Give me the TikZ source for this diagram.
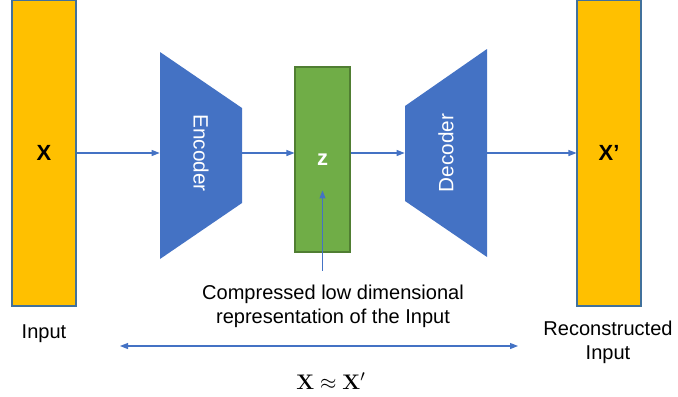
\documentclass[tikz,border=0pt]{standalone}
\usepackage{amsmath}
\usepackage[no-math]{fontspec}
\setmainfont{Liberation Sans}
\usepackage{xcolor}
\usetikzlibrary{positioning,arrows.meta,calc}
\definecolor{gold}{HTML}{FFC000}
\definecolor{ppblue}{HTML}{4472C4}
\definecolor{ppgreen}{HTML}{70AD47}
\definecolor{edgeblue}{HTML}{41719C}
\definecolor{edgegreen}{HTML}{507E32}

\begin{document}
\begin{tikzpicture}[x=0.02cm, y=-0.02cm,
  every node/.style={font=\fontsize{11.4}{13.7}\selectfont},
  bar/.style={draw=edgeblue, line width=0.6pt, fill=gold, minimum width=1.28cm, minimum height=6.12cm, inner sep=0pt, font=\fontsize{12.5}{15}\selectfont\bfseries},
  code/.style={draw=edgegreen, line width=0.6pt, fill=ppgreen, text=white, minimum width=1.1cm, minimum height=3.7cm, inner sep=0pt, font=\fontsize{12.5}{15}\selectfont\bfseries},
  net/.style={minimum width=1.64cm, minimum height=1.9cm, inner sep=0pt, text=white, font=\fontsize{11.8}{14}\selectfont},
  arr/.style={draw=ppblue, line width=0.6pt, -{Triangle[length=1.6mm, width=1.2mm]}},
  lbl/.style={align=center}]
\useasboundingbox (0,0) rectangle (678,396);
\fill[ppblue] (160,52) -- (242,108) -- (242,203) -- (160,259) -- cycle;
\fill[ppblue] (405,106) -- (487,49) -- (487,257) -- (405,201) -- cycle;
\node[bar] (X) at (44,153) {X};
\node[net] (enc) at (201,153) {\rotatebox{-90}{Encoder}};
\node[code] (z) at (322.5,159.5) {z};
\node[net] (dec) at (446,153) {\rotatebox{90}{Decoder}};
\node[bar] (Xr) at (609,153) {X’};
\draw[arr] (X.east |- enc.west) -- (enc.west);
\draw[arr] (enc.east) -- (enc.east -| z.west);
\draw[arr] (z.east |- dec.west) -- (dec.west);
\draw[arr] (dec.east) -- (dec.east -| Xr.west);
\node[lbl] (cap) at (333,306) {Compressed low dimensional\\representation of the Input};
\draw[arr] (z.south) ++(0,18) -- ([yshift=-0.62cm]z.center);
\node[lbl] (inp) at (44,334) {Input};
\node[lbl] (rec) at (608,342) {Reconstructed\\Input};
\coordinate (dl) at (120,346);
\coordinate (dr) at (518,346);
\draw[arr, {Triangle[length=1.6mm, width=1.2mm]}-{Triangle[length=1.6mm, width=1.2mm]}] (dl) -- (dr);
\node[font=\fontsize{13}{15}\selectfont] (eq) at (331,381) {$\mathbf{X}\approx\mathbf{X}'$};
\end{tikzpicture}
\end{document}
